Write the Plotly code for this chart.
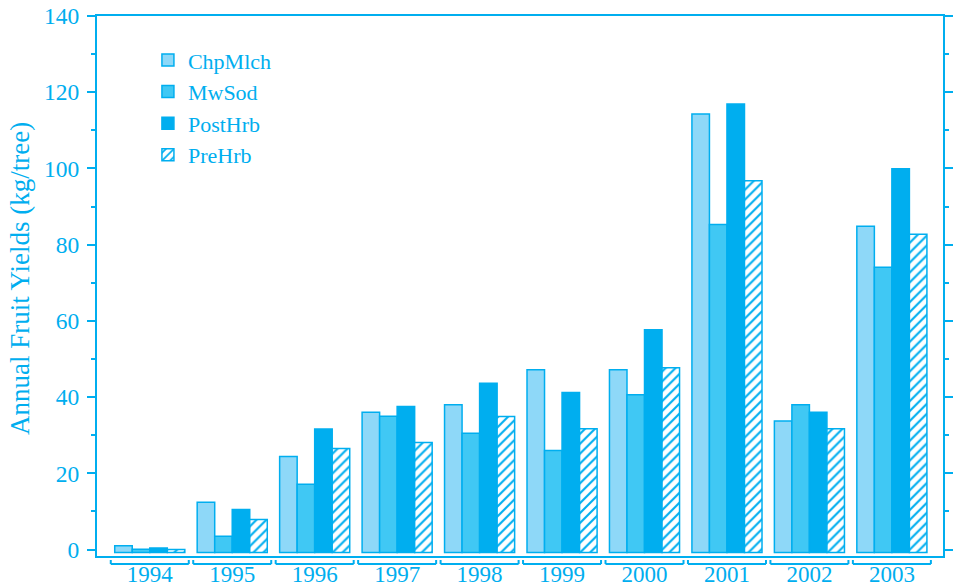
import plotly.graph_objects as go

years = ["1994", "1995", "1996", "1997", "1998", "1999", "2000", "2001", "2002", "2003"]
chp_mlch = [1.0, 12.4, 24.4, 36.0, 38.0, 47.2, 47.2, 114.3, 33.7, 84.8]
mw_sod = [0.1, 3.5, 17.1, 35.0, 30.5, 26.0, 40.6, 85.3, 38.0, 74.1]
post_hrb = [0.4, 10.5, 31.6, 37.5, 43.6, 41.2, 57.7, 116.9, 36.0, 99.9]
pre_hrb = [0.0, 7.9, 26.5, 28.1, 34.9, 31.7, 47.7, 96.8, 31.7, 82.7]
series_names = ["ChpMlch", "MwSod", "PostHrb", "PreHrb"]
y_ticks = [0, 20, 40, 60, 80, 100, 120, 140]
y_title = "Annual Fruit Yields (kg/tree)"

CYAN = "#00AEEF"
FONT = "Liberation Serif"
BASE = -0.8  # bars start slightly below zero, as in the original

fig = go.Figure()
fills = ["#8ED8F8", "#40C8F4", "#00AEEF", "white"]
for name, vals, fill in zip(series_names, [chp_mlch, mw_sod, post_hrb, pre_hrb], fills):
    marker = dict(color=fill, line=dict(color=CYAN, width=1.5))
    if name == "PreHrb":
        marker["pattern"] = dict(shape="/", fgcolor=CYAN, bgcolor="white",
                                 size=7, solidity=0.3, fillmode="replace")
    fig.add_trace(go.Bar(
        name=name, x=years, y=[v - BASE for v in vals], base=BASE,
        marker=marker,
        customdata=vals,
        hovertemplate="%{x}<br>" + name + ": %{customdata}<extra></extra>",
    ))

# bracket-style category markers under the x axis
shapes = []
half = 0.473
for i, _ in enumerate(years):
    common = dict(xref="x", yref="paper", line=dict(color=CYAN, width=2))
    shapes.append(dict(type="line", x0=i - half, x1=i + half, y0=-0.0148, y1=-0.0148, **common))
    shapes.append(dict(type="line", x0=i - half, x1=i - half, y0=-0.0148, y1=-0.0074, **common))
    shapes.append(dict(type="line", x0=i + half, x1=i + half, y0=-0.0148, y1=-0.0074, **common))

fig.update_layout(
    width=956, height=586,
    margin=dict(l=97, r=13, t=16, b=30, autoexpand=False),
    paper_bgcolor="white", plot_bgcolor="white",
    barmode="group", bargap=0.15, bargroupgap=0,
    font=dict(family=FONT, size=23, color=CYAN),
    showlegend=True,
    legend=dict(x=0.0602, y=0.957, xanchor="left", yanchor="top",
                bgcolor="rgba(0,0,0,0)", font=dict(family=FONT, size=22, color=CYAN)),
    shapes=shapes,
    annotations=[dict(text=y_title, textangle=-90, xref="paper", yref="paper",
                      x=-0.091, y=0.513, xanchor="center", yanchor="middle",
                      showarrow=False, font=dict(family=FONT, size=27, color=CYAN))],
    xaxis=dict(
        type="category", range=[-0.64, 9.62], automargin=False,
        showline=True, linecolor=CYAN, linewidth=2, mirror=True,
        ticks="", ticklen=0, ticklabelstandoff=-4, ticklabeloverflow="allow",
        tickfont=dict(family=FONT, size=23, color=CYAN),
        showgrid=False, zeroline=False,
    ),
    yaxis=dict(
        range=[-1.7, 140], tickvals=y_ticks, automargin=False,
        showline=True, linecolor=CYAN, linewidth=2, mirror="ticks",
        ticks="outside", ticklen=8, tickwidth=2, tickcolor=CYAN,
        minor=dict(dtick=10, ticks="outside", ticklen=4, tickwidth=2, tickcolor=CYAN, showgrid=False),
        ticklabelstandoff=3, ticklabeloverflow="allow",
        tickfont=dict(family=FONT, size=23.5, color=CYAN),
        showgrid=False, zeroline=False,
    ),
)

fig.write_html("out.html", config={"displayModeBar": False},
               post_script="document.body.style.margin='0';")
